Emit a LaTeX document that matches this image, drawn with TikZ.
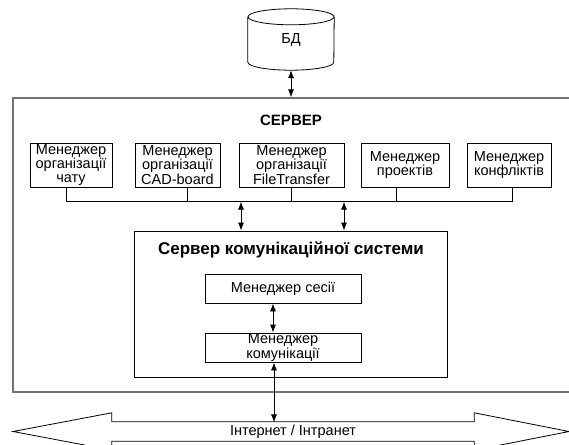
\documentclass[tikz,border=0pt]{standalone}
\usepackage{fontspec}
\setmainfont{Liberation Sans}
\usetikzlibrary{arrows.meta,calc}

\begin{document}
\begin{tikzpicture}[x=1pt, y=-1pt, node distance=106pt, font=\fontsize{14.5}{14.2}\selectfont]
  \tikzstyle{block} = [rectangle, draw, line width=0.8pt, align=center,
    inner sep=0pt, minimum height=44pt]
  \tikzstyle{frame} = [rectangle, draw=black!55, line width=1.4pt]
  \tikzstyle{title} = [font=\fontsize{15}{17}\selectfont\bfseries]
  \tikzstyle{link} = [draw, line width=0.8pt,
    {Latex[length=8pt,width=6pt]}-{Latex[length=8pt,width=6pt]}]
  \tikzstyle{bus} = [draw, line width=0.8pt]

  \useasboundingbox (0,0) rectangle (569,444);
  \clip (0,0) rectangle (569,444);

  % Place nodes
  \node [minimum width=86pt, minimum height=61pt, inner sep=0pt] (db) at (291,39.5) {БД};
  \node [frame, minimum width=562pt, minimum height=294pt] (server) at (294,245) {};
  \node [title] (srvname) at (291,120) {СЕРВЕР};

  \node [block, minimum width=82pt] (chat) at (71,165) {Менеджер\\організації\\чату};
  \node [block, right of=chat, node distance=106.5pt, minimum width=85pt] (cad)
    {Менеджер\\організації\\CAD-board};
  \node [block, right of=cad, node distance=114pt, minimum width=105pt] (ft)
    {Менеджер\\організації\\FileTransfer};
  \node [block, right of=ft, node distance=113.5pt, minimum width=88pt] (proj)
    {Менеджер\\проектів};
  \node [block, right of=proj, node distance=104pt, minimum width=84pt] (conf)
    {Менеджер\\конфліктів};

  \node [block, minimum width=313pt, minimum height=146pt] (comsrv) at (290.5,304) {};
  \node [title, font=\fontsize{17}{19}\selectfont\bfseries] (comname) at (291,250)
    {Сервер комунікаційної системи};
  \node [block, minimum width=156pt, minimum height=29pt] (session) at (283,288.5)
    {Менеджер сесії};
  \node [block, below of=session, node distance=59pt, minimum width=156pt,
    minimum height=29pt, font=\fontsize{14.5}{13.5}\selectfont] (comm) {Менеджер\\комунікації};

  \node [minimum width=362pt, minimum height=19pt, inner sep=0pt] (net) at (293,431.5)
    {Інтернет / Інтранет};

  % Database drum
  \draw [line width=0.8pt] ([yshift=-8pt]db.north west) -- ([yshift=8pt]db.south west)
    arc [start angle=180, end angle=360, x radius=43pt, y radius=8pt]
    -- ([yshift=-8pt]db.north east);
  \draw [line width=0.8pt] ([yshift=-8pt]db.north) ellipse [x radius=43pt, y radius=8pt];

  % Network band
  \draw [line width=0.8pt] (net.north west) -- ++(0,-9) -- (13,431.5)
    -- ($(net.south west)+(0,9)$) -- (net.south west) -- (net.south east)
    -- ++(0,9) -- (569,431.5) -- ($(net.north east)+(0,-9)$) -- (net.north east) -- cycle;

  % Draw edges
  \path [link] (db.south) -- (db.south |- server.north);
  \path [bus] ([xshift=-5pt]chat.south) -- ++(0,14) -| ([xshift=3pt]conf.south);
  \foreach \n/\s in {cad/9.5, ft/0, proj/-9}
    \path [bus] ([xshift=\s pt]\n.south) -- ++(0,14);
  \path [link] ([xshift=-49.5pt]comsrv.north) -- ++(0,-29);
  \path [link] ([xshift=53.5pt]comsrv.north) -- ++(0,-29);
  \path [link] ([xshift=-10pt]session.south) -- ([xshift=-10pt]comm.north);
  \path [link] ([xshift=-9pt]comm.south) -- ++(0,60);

\end{tikzpicture}
\end{document}
